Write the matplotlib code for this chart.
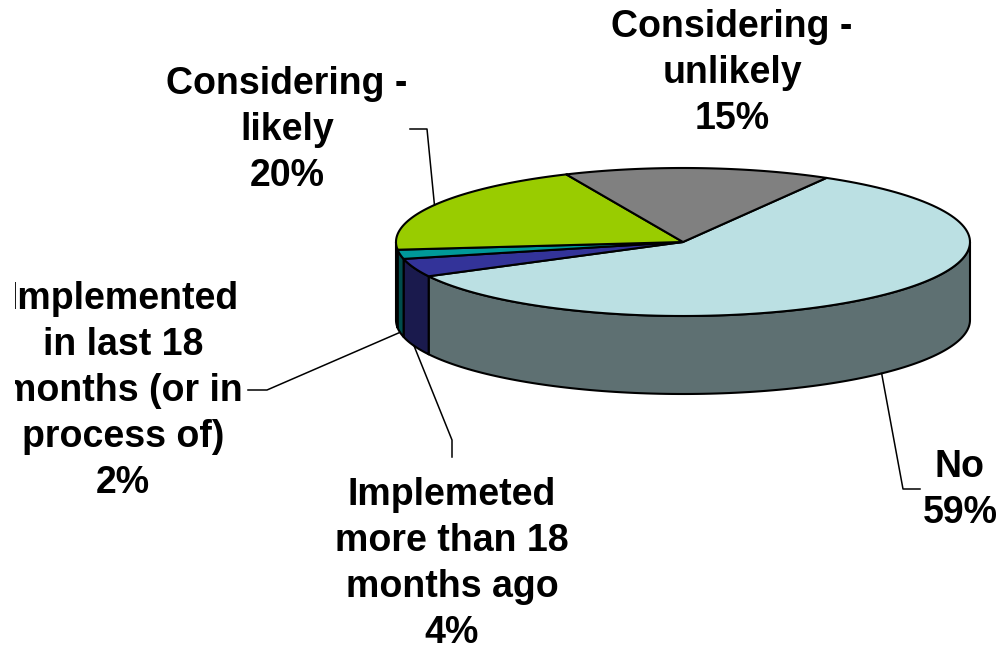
import numpy as np
import matplotlib
matplotlib.use("Agg")
import matplotlib.pyplot as plt
from matplotlib.patches import Polygon
from matplotlib.transforms import Bbox, TransformedBbox

# ---- data ----
categories = ["No",
              "Implemeted\nmore than 18\nmonths ago",
              "Implemented\nin last 18\nmonths (or in\nprocess of)",
              "Considering -\nlikely",
              "Considering -\nunlikely"]
values = [59, 4, 2, 20, 15]
top_colors = ["#BBE0E3", "#333399", "#009999", "#99CC00", "#808080"]
side_colors = ["#5E7072", "#1A1A4D", "#004D4D", "#4D6600", "#404040"]

# ---- layout ----
W, H = 1002, 650
cx, cy, rx, ry, depth = 683, 242, 287, 74, 78
start_angle = 60.0
# label centre positions and leader elbow/end points (layout)
label_pos = [(960, 490), (452, 564), (123, 391), (287, 130), (732, 73)]
label_clip_left = [None, None, 15, None, None]
leader_pts = [[(903, 489), (920, 489)],
              [(452, 440), (452, 457)],
              [(267, 390), (248, 390)],
              [(427, 129), (410, 129)],
              None]

fig = plt.figure(figsize=(W / 100, H / 100), dpi=100)
ax = fig.add_axes([0, 0, 1, 1])
ax.set_xlim(0, W)
ax.set_ylim(H, 0)
ax.axis("off")


def arc(t0, t1, dy=0.0, n=120):
    t = np.radians(np.linspace(t0, t1, n))
    return np.column_stack([cx + rx * np.cos(t), cy - ry * np.sin(t) + dy])


spans = np.array(values, dtype=float) / sum(values) * 360.0
ends = start_angle - np.concatenate([[0], np.cumsum(spans)[:-1]])
starts = ends - spans

lw = 1.5
# side walls (front, visible half)
for i in range(len(values)):
    t0, t1 = starts[i], ends[i]
    for k in (-360, 0, 360):
        a, b = max(t0, 180 + k), min(t1, 360 + k)
        if b > a:
            top = arc(a, b)
            bot = arc(b, a, depth)
            ax.add_patch(Polygon(np.vstack([top, bot]), closed=True,
                                 facecolor=side_colors[i], edgecolor="black",
                                 linewidth=lw, joinstyle="round", zorder=2))

# top faces
for i in range(len(values)):
    pts = np.vstack([[cx, cy], arc(starts[i], ends[i])])
    ax.add_patch(Polygon(pts, closed=True, facecolor=top_colors[i],
                         edgecolor="black", linewidth=lw, joinstyle="round",
                         zorder=3))

# labels and leader lines
for i in range(len(values)):
    txt = f"{categories[i]}\n{values[i]}%"
    x, y = label_pos[i]
    t = ax.text(x, y, txt, ha="center", va="center", fontsize=27,
                fontweight="bold", family="Liberation Sans", linespacing=1.36,
                zorder=5)
    if label_clip_left[i] is not None:
        bb = TransformedBbox(Bbox([[label_clip_left[i], 0], [W, H]]),
                             ax.transData)
        t.set_clip_box(bb)
        t.set_clip_on(True)
    if leader_pts[i] is not None:
        mid = np.radians((starts[i] + ends[i]) / 2)
        px = cx + rx * np.cos(mid)
        py = cy - ry * np.sin(mid) + (depth if np.sin(mid) < 0 else 0)
        xs = [px] + [p[0] for p in leader_pts[i]]
        ys = [py] + [p[1] for p in leader_pts[i]]
        ax.plot(xs, ys, color="black", linewidth=1.1, zorder=4)

fig.savefig("out.png", dpi=100)
